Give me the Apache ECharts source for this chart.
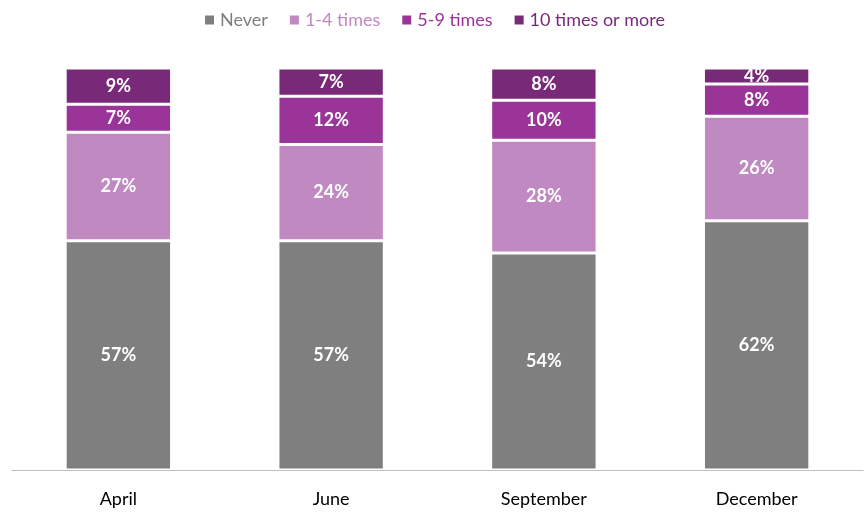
<!DOCTYPE html>
<html><head><meta charset="utf-8">
<script src="https://cdn.jsdelivr.net/npm/echarts@6/dist/echarts.min.js"></script>
<style>html,body{margin:0;padding:0;background:#fff}#c{width:868px;height:520px}</style>
</head><body><div id="c"></div>
<script>
const categories = ['April','June','September','December'];
const seriesNames = ['Never','1-4 times','5-9 times','10 times or more'];
const never = [57,57,54,62];
const times1to4 = [27,24,28,26];
const times5to9 = [7,12,10,8];
const times10plus = [9,7,8,4];
const colors = ['#7f7f7f','#c089c1','#9a3499','#782a78'];
const data = [never,times1to4,times5to9,times10plus];
const chart = echarts.init(document.getElementById('c'));
chart.setOption({
  animation:false,
  legend:{top:6,left:'center',itemWidth:11,itemHeight:11,itemGap:20,icon:'rect',
    textStyle:{fontFamily:'Lato, Carlito, sans-serif',fontSize:18},
    data:seriesNames.map((n,i)=>({name:n,textStyle:{color:colors[i]}}))},
  grid:{left:12,right:5,top:68,bottom:50},
  xAxis:{type:'category',data:categories,axisTick:{show:false},
    axisLine:{lineStyle:{color:'#bfbfbf'}},
    axisLabel:{color:'#000',fontSize:18,fontFamily:'Lato, sans-serif',margin:20}},
  yAxis:{type:'value',min:0,max:100,show:false,splitLine:{show:false}},
  series:seriesNames.map((n,i)=>({name:n,type:'bar',stack:'a',barWidth:'50%',data:data[i],
    itemStyle:{color:colors[i],borderColor:'#fff',borderWidth:1.5},
    label:{show:true,formatter:'{c}%',color:'#fff',fontWeight:'bold',fontSize:18,fontFamily:'Lato, sans-serif'}}))
});
</script></body></html>
